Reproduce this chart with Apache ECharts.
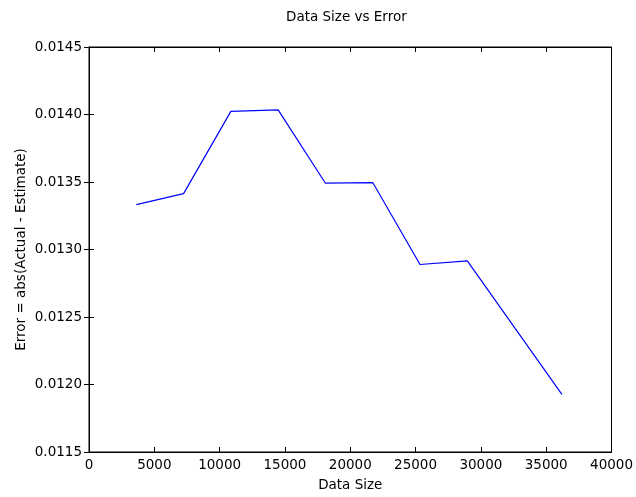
<!DOCTYPE html>
<html>
<head>
<meta charset="utf-8">
<script src="https://cdn.jsdelivr.net/npm/echarts@6/dist/echarts.min.js"></script>
<style>
    html, body { margin: 0; padding: 0; background: #fff; }
    #main { width: 636px; height: 497px; }
</style>
</head>
<body>
<div id="main"></div>
<script>
// 数据
var dataSizes = [3620, 7240, 10860, 14480, 18100, 21720, 25340, 28960, 36200];
var errors = [0.013333, 0.013414, 0.014023, 0.014034, 0.013491, 0.013496, 0.012889, 0.012916, 0.011927];

var font = 'DejaVu Sans';
var chart = echarts.init(document.getElementById('main'));

var points = dataSizes.map(function (x, i) {
    return [x, errors[i]];
});

var tickStyle = {
    show: true,
    inside: true,
    length: 5,
    lineStyle: { color: '#000', width: 1 }
};

var option = {
    animation: false,
    backgroundColor: '#fff',
    title: {
        text: 'Data Size vs Error',
        left: 281,
        top: 5,
        textStyle: { fontFamily: font, fontSize: 13.5, fontWeight: 'normal', color: '#000' }
    },
    grid: {
        left: 89,
        right: 24,
        top: 47,
        bottom: 45,
        show: true,
        borderColor: '#000',
        borderWidth: 1
    },
    xAxis: [{
        type: 'value',
        min: 0,
        max: 40000,
        interval: 5000,
        name: 'Data Size',
        nameLocation: 'middle',
        nameGap: 26,
        nameMoveOverlap: false,
        nameTextStyle: { fontFamily: font, fontSize: 13.5, color: '#000' },
        axisLine: { show: true, lineStyle: { color: '#000' } },
        axisTick: tickStyle,
        axisLabel: {
            fontFamily: font, fontSize: 13.5, color: '#000', margin: 6,
            formatter: function (v) { return String(v); }
        },
        splitLine: { show: false }
    }, {
        type: 'value',
        position: 'top',
        min: 0,
        max: 40000,
        interval: 5000,
        axisLine: { show: true, lineStyle: { color: '#000' } },
        axisTick: tickStyle,
        axisLabel: { show: false },
        splitLine: { show: false }
    }],
    yAxis: [{
        type: 'value',
        min: 0.0115,
        max: 0.0145,
        interval: 0.0005,
        name: 'Error = abs(Actual - Estimate)',
        nameLocation: 'middle',
        nameGap: 61,
        nameMoveOverlap: false,
        nameTextStyle: { fontFamily: font, fontSize: 13.5, color: '#000' },
        axisLine: { show: true, lineStyle: { color: '#000' } },
        axisTick: tickStyle,
        axisLabel: {
            fontFamily: font, fontSize: 13.5, color: '#000', margin: 7,
            formatter: function (v) { return v.toFixed(4); }
        },
        splitLine: { show: false }
    }, {
        type: 'value',
        position: 'right',
        min: 0.0115,
        max: 0.0145,
        interval: 0.0005,
        axisLine: { show: true, lineStyle: { color: '#000' } },
        axisTick: tickStyle,
        axisLabel: { show: false },
        splitLine: { show: false }
    }],
    series: [{
        type: 'line',
        xAxisIndex: 0,
        yAxisIndex: 0,
        data: points,
        showSymbol: false,
        lineStyle: { color: '#0000ff', width: 1.2 },
        itemStyle: { color: '#0000ff' }
    }]
};
chart.setOption(option);
</script>
</body>
</html>
